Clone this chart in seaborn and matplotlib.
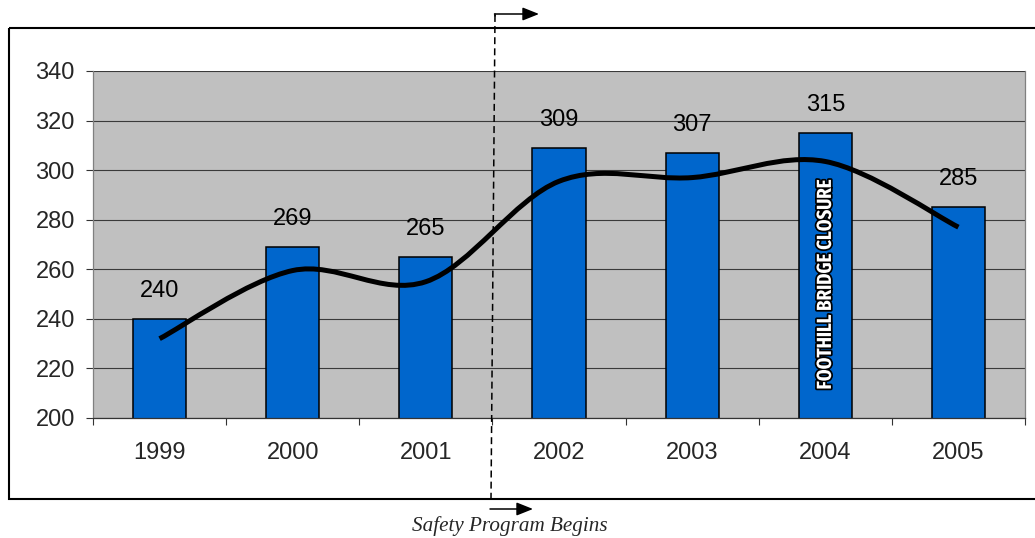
import numpy as np
import pandas as pd
import matplotlib
matplotlib.use('Agg')
import matplotlib.pyplot as plt
import matplotlib.patheffects as pe
from matplotlib import font_manager
from matplotlib.path import Path
from matplotlib.patches import PathPatch, Rectangle
import seaborn as sns

# --- Data ---
years = ['1999', '2000', '2001', '2002', '2003', '2004', '2005']
counts = [240, 269, 265, 309, 307, 315, 285]
# smoothed trend line values
trend = [232, 259.5, 255, 295.5, 297, 303.5, 277]
y_ticks = [200, 220, 240, 260, 280, 300, 320, 340]
bar_note = 'FOOTHILL BRIDGE CLOSURE'
note_year = '2004'
program_label = 'Safety Program Begins'

df = pd.DataFrame({'year': years, 'count': counts})

sns.set_style('white')
plt.rcParams['font.family'] = ['Liberation Sans', 'DejaVu Sans']
plt.rcParams['lines.scale_dashes'] = False

W, H = 1035, 538
fig = plt.figure(figsize=(W / 100, H / 100), dpi=100)
ax = fig.add_axes([93 / W, (H - 418) / H, 932 / W, 347 / H])
ax.set_facecolor('#C0C0C0')

sns.barplot(data=df, x='year', y='count', color='#0066CC', saturation=1,
            width=0.4, edgecolor='black', linewidth=1.1, ax=ax, zorder=2)

ax.set_xlim(-0.5, len(years) - 0.5)
ax.set_ylim(y_ticks[0], y_ticks[-1])
ax.set_yticks(y_ticks)
ax.set_xlabel('')
ax.set_ylabel('')
ax.set_axisbelow(True)
ax.yaxis.grid(True, color='#3a3a3a', linewidth=0.8)
ax.xaxis.grid(False)

# category boundary ticks (outward) and small inner ticks at centres
ax.set_xticks(np.arange(len(years)))
ax.set_xticklabels(years)
ax.set_xticks(np.arange(len(years) + 1) - 0.5, minor=True)
ax.tick_params(axis='x', which='major', direction='in', length=3, width=0.8,
               color='#333333', pad=17, labelsize=17, bottom=True)
ax.tick_params(axis='x', which='minor', direction='out', length=5, width=0.8,
               color='#333333', bottom=True)
ax.tick_params(axis='y', direction='out', length=5, width=0.8,
               color='#333333', pad=8, labelsize=17, left=True)

ax.spines['top'].set_visible(False)
ax.spines['left'].set_color('#808080')
ax.spines['right'].set_color('#808080')
ax.spines['bottom'].set_color('#333333')
for sp in ax.spines.values():
    sp.set_linewidth(0.9)

# value labels above bars
for i, v in enumerate(counts):
    ax.annotate(str(v), (i, v), xytext=(0, 15.8), textcoords='offset points',
                ha='center', va='baseline', fontsize=17, color='black')

# smoothed trend line (Bezier through the points, like a spreadsheet smooth line)
pts = list(zip(range(len(trend)), trend))
verts = [pts[0]]
codes = [Path.MOVETO]
for i in range(len(pts) - 1):
    p0 = pts[max(i - 1, 0)]
    p1 = pts[i]
    p2 = pts[i + 1]
    p3 = pts[min(i + 2, len(pts) - 1)]
    c1 = (p1[0] + (p2[0] - p0[0]) / 6, p1[1] + (p2[1] - p0[1]) / 6)
    c2 = (p2[0] - (p3[0] - p1[0]) / 6, p2[1] - (p3[1] - p1[1]) / 6)
    verts += [c1, c2, p2]
    codes += [Path.CURVE4] * 3
ax.add_patch(PathPatch(Path(verts, codes), facecolor='none', edgecolor='black',
                       linewidth=3.6, capstyle='butt', zorder=4))


# note inside the 2004 bar - pick the narrowest bold face that is installed
def narrow_score(path):
    p = path.lower().replace('-', '').replace('_', '').replace(' ', '')
    if 'bold' not in p or 'italic' in p or 'oblique' in p:
        return 0
    if 'semibold' in p or 'extrabold' in p or 'black' in p:
        return 0
    if 'extracondensed' in p:
        return 4
    if 'semicondensed' in p:
        return 1
    if 'condensed' in p or 'narrow' in p:
        return 3
    return 0


best = None
best_score = 0
for f in font_manager.fontManager.ttflist:
    s = narrow_score(f.fname)
    if s > best_score:
        best, best_score = f.fname, s

if best:
    note_fp = font_manager.FontProperties(fname=best)
else:
    note_fp = font_manager.FontProperties(family='DejaVu Sans', weight='bold')
note_fp.set_size(14)

ni = years.index(note_year)
note = ax.text(ni, 253.8, bar_note, rotation=90, ha='center', va='center',
               fontproperties=note_fp, color='white', zorder=5,
               path_effects=[pe.withStroke(linewidth=2.5, foreground='black')])
# fit the note to the length it has in the original (~209 px)
renderer = fig.canvas.get_renderer()
ext = note.get_window_extent(renderer)
note.set_fontsize(14 * 209 / ext.height)

# overlay in pixel coordinates for frame, program marker and caption
ov = fig.add_axes([0, 0, 1, 1], zorder=10)
ov.set_xlim(0, W)
ov.set_ylim(H, 0)
ov.axis('off')
ov.patch.set_visible(False)

ov.add_patch(Rectangle((9, 28), W + 10 - 9, 471, facecolor='none',
                       edgecolor='black', linewidth=1.5, clip_on=False))

ov.plot([495, 491], [15, 499], color='black', linewidth=1.1,
        linestyle=(0, (5, 3)), solid_capstyle='butt')
ov.plot([495, 495], [14, 16], color='black', linewidth=1.1)
arrow = dict(arrowstyle='-|>,head_length=0.5,head_width=0.2', color='black',
             linewidth=1.1, mutation_scale=20, shrinkA=0, shrinkB=0)
ov.annotate('', xy=(539, 14), xytext=(494.5, 14), arrowprops=arrow)
ov.annotate('', xy=(533, 509), xytext=(490, 509), arrowprops=arrow)

ov.text(510, 531, program_label, ha='center', va='baseline', fontsize=15.2,
        style='italic', family=['Liberation Serif', 'DejaVu Serif'])

fig.savefig('out.png', dpi=100)
